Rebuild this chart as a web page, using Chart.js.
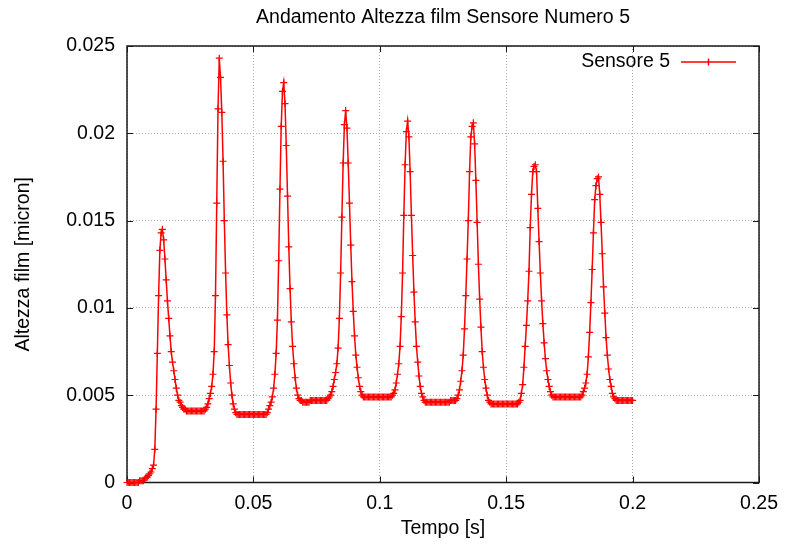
<!DOCTYPE html>
<html>
<head>
<meta charset="utf-8">
<script src="https://cdn.jsdelivr.net/npm/chart.js@4/dist/chart.umd.min.js"></script>
<style>
  html, body { margin: 0; padding: 0; background: #fff; }
  canvas { display: block; }
</style>
</head>
<body>
<canvas id="myChart" width="787" height="546"></canvas>
<script>
// Texts
const chartTitle = "Andamento Altezza film Sensore Numero 5";
const xTitle = "Tempo [s]";
const yTitle = "Altezza film [micron]";
const seriesName = "Sensore 5";

// Tick labels
const xTickLabels = ["0", "0.05", "0.1", "0.15", "0.2", "0.25"];
const yTickLabels = ["0", "0.005", "0.01", "0.015", "0.02", "0.025"];

// Sample times [s]
const tempo = [
  0, 0.0005, 0.001, 0.0015, 0.002, 0.0025, 0.003, 0.0035, 0.004, 0.0045,
  0.005, 0.0055, 0.006, 0.0065, 0.007, 0.0075, 0.008, 0.0085, 0.009, 0.0095,
  0.01, 0.0105, 0.011, 0.0115, 0.012, 0.0125, 0.013, 0.0135, 0.014, 0.0145,
  0.015, 0.0155, 0.016, 0.0165, 0.017, 0.0175, 0.018, 0.0185, 0.019, 0.0195,
  0.02, 0.0205, 0.021, 0.0215, 0.022, 0.0225, 0.023, 0.0235, 0.024, 0.0245,
  0.025, 0.0255, 0.026, 0.0265, 0.027, 0.0275, 0.028, 0.0285, 0.029, 0.0295,
  0.03, 0.0305, 0.031, 0.0315, 0.032, 0.0325, 0.033, 0.0335, 0.034, 0.0345,
  0.035, 0.0355, 0.036, 0.0365, 0.037, 0.0375, 0.038, 0.0385, 0.039, 0.0395,
  0.04, 0.0405, 0.041, 0.0415, 0.042, 0.0425, 0.043, 0.0435, 0.044, 0.0445,
  0.045, 0.0455, 0.046, 0.0465, 0.047, 0.0475, 0.048, 0.0485, 0.049, 0.0495,
  0.05, 0.0505, 0.051, 0.0515, 0.052, 0.0525, 0.053, 0.0535, 0.054, 0.0545,
  0.055, 0.0555, 0.056, 0.0565, 0.057, 0.0575, 0.058, 0.0585, 0.059, 0.0595,
  0.06, 0.0605, 0.061, 0.0615, 0.062, 0.0625, 0.063, 0.0635, 0.064, 0.0645,
  0.065, 0.0655, 0.066, 0.0665, 0.067, 0.0675, 0.068, 0.0685, 0.069, 0.0695,
  0.07, 0.0705, 0.071, 0.0715, 0.072, 0.0725, 0.073, 0.0735, 0.074, 0.0745,
  0.075, 0.0755, 0.076, 0.0765, 0.077, 0.0775, 0.078, 0.0785, 0.079, 0.0795,
  0.08, 0.0805, 0.081, 0.0815, 0.082, 0.0825, 0.083, 0.0835, 0.084, 0.0845,
  0.085, 0.0855, 0.086, 0.0865, 0.087, 0.0875, 0.088, 0.0885, 0.089, 0.0895,
  0.09, 0.0905, 0.091, 0.0915, 0.092, 0.0925, 0.093, 0.0935, 0.094, 0.0945,
  0.095, 0.0955, 0.096, 0.0965, 0.097, 0.0975, 0.098, 0.0985, 0.099, 0.0995,
  0.1, 0.1005, 0.101, 0.1015, 0.102, 0.1025, 0.103, 0.1035, 0.104, 0.1045,
  0.105, 0.1055, 0.106, 0.1065, 0.107, 0.1075, 0.108, 0.1085, 0.109, 0.1095,
  0.11, 0.1105, 0.111, 0.1115, 0.112, 0.1125, 0.113, 0.1135, 0.114, 0.1145,
  0.115, 0.1155, 0.116, 0.1165, 0.117, 0.1175, 0.118, 0.1185, 0.119, 0.1195,
  0.12, 0.1205, 0.121, 0.1215, 0.122, 0.1225, 0.123, 0.1235, 0.124, 0.1245,
  0.125, 0.1255, 0.126, 0.1265, 0.127, 0.1275, 0.128, 0.1285, 0.129, 0.1295,
  0.13, 0.1305, 0.131, 0.1315, 0.132, 0.1325, 0.133, 0.1335, 0.134, 0.1345,
  0.135, 0.1355, 0.136, 0.1365, 0.137, 0.1375, 0.138, 0.1385, 0.139, 0.1395,
  0.14, 0.1405, 0.141, 0.1415, 0.142, 0.1425, 0.143, 0.1435, 0.144, 0.1445,
  0.145, 0.1455, 0.146, 0.1465, 0.147, 0.1475, 0.148, 0.1485, 0.149, 0.1495,
  0.15, 0.1505, 0.151, 0.1515, 0.152, 0.1525, 0.153, 0.1535, 0.154, 0.1545,
  0.155, 0.1555, 0.156, 0.1565, 0.157, 0.1575, 0.158, 0.1585, 0.159, 0.1595,
  0.16, 0.1605, 0.161, 0.1615, 0.162, 0.1625, 0.163, 0.1635, 0.164, 0.1645,
  0.165, 0.1655, 0.166, 0.1665, 0.167, 0.1675, 0.168, 0.1685, 0.169, 0.1695,
  0.17, 0.1705, 0.171, 0.1715, 0.172, 0.1725, 0.173, 0.1735, 0.174, 0.1745,
  0.175, 0.1755, 0.176, 0.1765, 0.177, 0.1775, 0.178, 0.1785, 0.179, 0.1795,
  0.18, 0.1805, 0.181, 0.1815, 0.182, 0.1825, 0.183, 0.1835, 0.184, 0.1845,
  0.185, 0.1855, 0.186, 0.1865, 0.187, 0.1875, 0.188, 0.1885, 0.189, 0.1895,
  0.19, 0.1905, 0.191, 0.1915, 0.192, 0.1925, 0.193, 0.1935, 0.194, 0.1945,
  0.195, 0.1955, 0.196, 0.1965, 0.197, 0.1975, 0.198, 0.1985, 0.199, 0.1995,
  0.2
];

// Film height [micron]
const altezza = [
  0, 0, 0, 0, 0, 0, 0, 0, 0, 0,
  0.0001, 0.0001, 0.0001, 0.0001, 0.0002, 0.0003, 0.0003, 0.0004, 0.0005, 0.0006,
  0.0008, 0.0010, 0.0019, 0.0042, 0.0074, 0.0107, 0.0133, 0.0143, 0.0145, 0.0139,
  0.0128, 0.0116, 0.0104, 0.0094, 0.0084, 0.0075, 0.0069, 0.0064, 0.0059, 0.0054,
  0.0050, 0.0047, 0.0046, 0.0044, 0.0043, 0.0042, 0.0042, 0.0041, 0.0041, 0.0041,
  0.0041, 0.0041, 0.0041, 0.0041, 0.0041, 0.0041, 0.0041, 0.0041, 0.0041, 0.0041,
  0.0041, 0.0041, 0.0042, 0.0043, 0.0045, 0.0048, 0.0051, 0.0055, 0.0062, 0.0075,
  0.0107, 0.0160, 0.0214, 0.0243, 0.0232, 0.0212, 0.0184, 0.0150, 0.0120, 0.0096,
  0.0079, 0.0067, 0.0057, 0.0050, 0.0045, 0.0042, 0.0040, 0.0039, 0.0039, 0.0039,
  0.0039, 0.0039, 0.0039, 0.0039, 0.0039, 0.0039, 0.0039, 0.0039, 0.0039, 0.0039,
  0.0039, 0.0039, 0.0039, 0.0039, 0.0039, 0.0039, 0.0039, 0.0039, 0.0039, 0.0039,
  0.0039, 0.0040, 0.0042, 0.0044, 0.0046, 0.0049, 0.0054, 0.0062, 0.0074, 0.0093,
  0.0127, 0.0168, 0.0204, 0.0224, 0.0229, 0.0217, 0.0193, 0.0164, 0.0135, 0.0111,
  0.0092, 0.0078, 0.0068, 0.0060, 0.0054, 0.0050, 0.0048, 0.0047, 0.0047, 0.0046,
  0.0046, 0.0046, 0.0046, 0.0046, 0.0046, 0.0047, 0.0047, 0.0047, 0.0047, 0.0047,
  0.0047, 0.0047, 0.0047, 0.0047, 0.0047, 0.0047, 0.0047, 0.0047, 0.0047, 0.0048, 0.0049,
  0.0050, 0.0052, 0.0055, 0.0059, 0.0063, 0.0068, 0.0077, 0.0094, 0.0120, 0.0152,
  0.0183, 0.0205, 0.0213, 0.0203, 0.0183, 0.0160, 0.0136, 0.0115, 0.0098, 0.0084,
  0.0073, 0.0066, 0.0060, 0.0055, 0.0052, 0.0050, 0.0049, 0.0049, 0.0049, 0.0049,
  0.0049, 0.0049, 0.0049, 0.0049, 0.0049, 0.0049, 0.0049, 0.0049, 0.0049, 0.0049,
  0.0049, 0.0049, 0.0049, 0.0049, 0.0049, 0.0049, 0.0049, 0.0049, 0.0049, 0.0050,
  0.0051, 0.0053, 0.0057, 0.0062, 0.0068, 0.0078, 0.0095, 0.0120, 0.0153, 0.0182,
  0.0201, 0.0207, 0.0198, 0.0178, 0.0153, 0.0130, 0.0109, 0.0092, 0.0078, 0.0069,
  0.0061, 0.0055, 0.0051, 0.0049, 0.0047, 0.0046, 0.0046, 0.0046, 0.0046, 0.0046,
  0.0046, 0.0046, 0.0046, 0.0046, 0.0046, 0.0046, 0.0046, 0.0046, 0.0046, 0.0046,
  0.0046, 0.0046, 0.0046, 0.0046, 0.0046, 0.0047, 0.0047, 0.0047, 0.0047, 0.0047,
  0.0048, 0.0050, 0.0053, 0.0058, 0.0064, 0.0073, 0.0088, 0.0107, 0.0128, 0.0150,
  0.0178, 0.0198, 0.0204, 0.0206, 0.0194, 0.0173, 0.0149, 0.0125, 0.0105, 0.0089,
  0.0075, 0.0066, 0.0059, 0.0054, 0.0050, 0.0047, 0.0046, 0.0045, 0.0045, 0.0045,
  0.0045, 0.0045, 0.0045, 0.0045, 0.0045, 0.0045, 0.0045, 0.0045, 0.0045, 0.0045,
  0.0045, 0.0045, 0.0045, 0.0045, 0.0045, 0.0045, 0.0045, 0.0045, 0.0045, 0.0046,
  0.0047, 0.0051, 0.0056, 0.0066, 0.0078, 0.0090, 0.0104, 0.0121, 0.0146, 0.0165,
  0.0178, 0.0181, 0.0182, 0.0178, 0.0157, 0.0138, 0.0120, 0.0104, 0.0091, 0.0080,
  0.0071, 0.0064, 0.0059, 0.0055, 0.0052, 0.0050, 0.0049, 0.0049, 0.0049, 0.0049,
  0.0049, 0.0049, 0.0049, 0.0049, 0.0049, 0.0049, 0.0049, 0.0049, 0.0049, 0.0049,
  0.0049, 0.0049, 0.0049, 0.0049, 0.0049, 0.0049, 0.0049, 0.0049, 0.0049, 0.0050,
  0.0052, 0.0054, 0.0057, 0.0062, 0.0072, 0.0086, 0.0103, 0.0122, 0.0143, 0.0162,
  0.0170, 0.0174, 0.0175, 0.0165, 0.0149, 0.0131, 0.0112, 0.0097, 0.0083, 0.0073,
  0.0065, 0.0059, 0.0055, 0.0051, 0.0049, 0.0048, 0.0047, 0.0047, 0.0047, 0.0047,
  0.0047, 0.0047, 0.0047, 0.0047, 0.0047, 0.0047, 0.0047, 0.0047, 0.0047, 0.0047
];

const fontFamily = '"Liberation Sans", Arial, sans-serif';
const textColor = "#000";
const lineColor = "#ff0000";

// Border box, mirrored inward ticks, title and key
const framePlugin = {
  id: "frame",
  beforeDatasetsDraw(chart) {
    const { ctx, chartArea: a, scales } = chart;
    const tick = 6;
    ctx.save();
    ctx.strokeStyle = "#1a1a1a";
    ctx.lineWidth = 1.5;
    ctx.strokeRect(a.left, a.top, a.right - a.left, a.bottom - a.top);
    ctx.lineWidth = 1;
    ctx.beginPath();
    scales.x.ticks.forEach(t => {
      const x = Math.round(scales.x.getPixelForValue(t.value)) + 0.5;
      ctx.moveTo(x, a.bottom); ctx.lineTo(x, a.bottom - tick);
      ctx.moveTo(x, a.top); ctx.lineTo(x, a.top + tick);
    });
    scales.y.ticks.forEach(t => {
      const y = Math.round(scales.y.getPixelForValue(t.value)) + 0.5;
      ctx.moveTo(a.left, y); ctx.lineTo(a.left + tick, y);
      ctx.moveTo(a.right, y); ctx.lineTo(a.right - tick, y);
    });
    ctx.stroke();
    ctx.restore();
  },
  afterDraw(chart) {
    const { ctx, chartArea: a } = chart;
    ctx.save();
    // title
    ctx.fillStyle = textColor;
    ctx.font = "19.5px " + fontFamily;
    ctx.textAlign = "center";
    ctx.textBaseline = "middle";
    ctx.fillText(chartTitle, (a.left + a.right) / 2, 18);

    // key, top right
    const ky = a.top + 16;
    const lineEnd = a.right - 23;
    const lineStart = lineEnd - 55;
    ctx.textAlign = "right";
    ctx.fillText(seriesName, lineStart - 11, ky);
    ctx.strokeStyle = lineColor;
    ctx.lineWidth = 1.5;
    ctx.beginPath();
    ctx.moveTo(lineStart, ky);
    ctx.lineTo(lineEnd, ky);
    const cx = (lineStart + lineEnd) / 2;
    ctx.moveTo(cx, ky - 3.5);
    ctx.lineTo(cx, ky + 3.5);
    ctx.stroke();
    ctx.restore();
  }
};

const ctx = document.getElementById("myChart").getContext("2d");
const myChart = new Chart(ctx, {
  type: "line",
  data: {
    datasets: [{
      label: seriesName,
      data: tempo.map((t, i) => ({ x: t, y: altezza[i] })),
      borderColor: lineColor,
      borderWidth: 1.5,
      pointStyle: "cross",
      pointRadius: 3.5,
      pointBorderWidth: 1.2,
      pointBorderColor: lineColor,
      pointBackgroundColor: lineColor,
      tension: 0,
      clip: false
    }]
  },
  options: {
    responsive: false,
    devicePixelRatio: 1,
    animation: false,
    events: [],
    layout: { padding: { top: 46, right: 23.5, left: 0, bottom: 0 } },
    plugins: {
      legend: { display: false },
      title: { display: false },
      tooltip: { enabled: false }
    },
    scales: {
      x: {
        type: "linear",
        min: 0,
        max: 0.25,
        afterFit: scale => { scale.height = 63.5; },
        ticks: {
          stepSize: 0.05,
          padding: 9,
          color: textColor,
          font: { family: fontFamily, size: 19.5 },
          callback: (value, index) => xTickLabels[index]
        },
        grid: { color: "#aaaaaa", lineWidth: 1, drawTicks: false },
        border: { display: false, dash: [1, 2] },
        title: {
          display: true,
          text: xTitle,
          color: textColor,
          font: { family: fontFamily, size: 19.5 },
          padding: { top: 0, bottom: 6 }
        }
      },
      y: {
        type: "linear",
        min: 0,
        max: 0.025,
        afterFit: scale => { scale.width = 127; },
        ticks: {
          stepSize: 0.005,
          padding: 12,
          color: textColor,
          font: { family: fontFamily, size: 19.5 },
          callback: (value, index) => yTickLabels[index]
        },
        grid: { color: "#aaaaaa", lineWidth: 1, drawTicks: false },
        border: { display: false, dash: [1, 2] },
        title: {
          display: true,
          text: yTitle,
          color: textColor,
          font: { family: fontFamily, size: 19.5 },
          padding: { top: 12, bottom: 0 }
        }
      }
    }
  },
  plugins: [framePlugin]
});
</script>
</body>
</html>
